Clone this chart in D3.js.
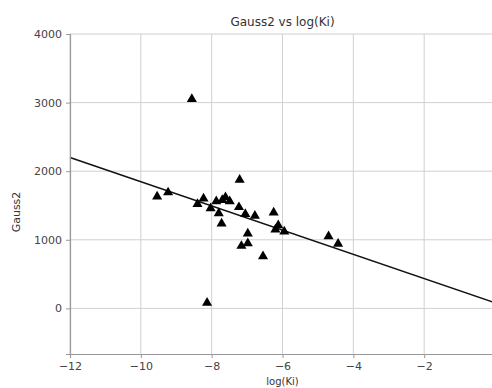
<!DOCTYPE html>
<html>
<head>
<meta charset="utf-8">
<script src="https://cdn.jsdelivr.net/npm/d3@7"></script>
<style>
  body { margin: 0; background: #fff; }
  svg { display: block; font-family: "DejaVu Sans", sans-serif; }
</style>
</head>
<body>
<svg id="chart" width="492" height="388"></svg>
<script>
const width = 492;
const height = 388;

// values
const logKi = [-9.54, -9.23, -8.56, -8.40, -8.23, -8.13, -8.03, -7.87, -7.80, -7.72,
  -7.70, -7.61, -7.49, -7.23, -7.21, -7.05, -6.98, -6.98, -7.16, -6.78,
  -6.55, -6.25, -6.12, -6.20, -5.95, -4.70, -4.43];
const gauss2 = [1630, 1690, 3050, 1520, 1600, 80, 1460, 1560, 1385, 1235,
  1580, 1620, 1560, 1475, 1875, 1375, 1090, 950, 910, 1350,
  760, 1395, 1210, 1150, 1120, 1050, 940];

// fitted line: gauss2 = slope * logKi + intercept
const fitSlope = -176.5;
const fitIntercept = 82;

const xTicks = [-12, -10, -8, -6, -4, -2];
const yTicks = [0, 1000, 2000, 3000, 4000];

const margin = { top: 34, right: -3, bottom: 34, left: 70 };

const svg = d3.select("#chart");

const x = d3.scaleLinear()
  .domain([-12, 0])
  .range([margin.left, width - margin.right]);

const y = d3.scaleLinear()
  .domain([-665, 4000])
  .range([height - margin.bottom, margin.top]);

const plot = svg.append("g");

// grid
plot.append("g")
  .selectAll("line")
  .data(xTicks)
  .join("line")
  .attr("x1", d => x(d)).attr("x2", d => x(d))
  .attr("y1", margin.top).attr("y2", height - margin.bottom)
  .attr("stroke", "#d0d0d0");

plot.append("g")
  .selectAll("line")
  .data(yTicks)
  .join("line")
  .attr("x1", margin.left).attr("x2", width)
  .attr("y1", d => y(d)).attr("y2", d => y(d))
  .attr("stroke", "#d0d0d0");

// axes
const xAxis = svg.append("g")
  .attr("transform", `translate(0,${height - margin.bottom})`)
  .call(d3.axisBottom(x).tickValues(xTicks).tickSize(4).tickPadding(4));

const yAxis = svg.append("g")
  .attr("transform", `translate(${margin.left},0)`)
  .call(d3.axisLeft(y).tickValues(yTicks).tickFormat(d3.format("d")).tickSize(4).tickPadding(4));

[xAxis, yAxis].forEach(ax => {
  ax.select(".domain").attr("stroke", "#999").attr("stroke-width", 1.2);
  ax.selectAll(".tick line").attr("stroke", "#999");
  ax.selectAll(".tick text")
    .attr("fill", "#444")
    .style("font-size", "11px")
    .style("font-family", "DejaVu Sans");
});

// regression line
const fitX = x.domain();
plot.append("line")
  .attr("x1", x(fitX[0])).attr("y1", y(fitSlope * fitX[0] + fitIntercept))
  .attr("x2", x(fitX[1])).attr("y2", y(fitSlope * fitX[1] + fitIntercept))
  .attr("stroke", "#111")
  .attr("stroke-width", 1.5);

// points
const tri = d3.symbol().type(d3.symbolTriangle).size(44);
plot.append("g")
  .selectAll("path")
  .data(d3.zip(logKi, gauss2))
  .join("path")
  .attr("d", tri)
  .attr("transform", d => `translate(${x(d[0])},${y(d[1])})`)
  .attr("fill", "#000");

// titles
svg.append("text")
  .attr("x", (margin.left + x(0)) / 2)
  .attr("y", 26)
  .attr("text-anchor", "middle")
  .attr("fill", "#333")
  .style("font-size", "12px")
  .text("Gauss2 vs log(Ki)");

svg.append("text")
  .attr("x", (margin.left + x(0)) / 2)
  .attr("y", 385)
  .attr("text-anchor", "middle")
  .attr("fill", "#333")
  .style("font-size", "10px")
  .text("log(Ki)");

svg.append("text")
  .attr("transform", `translate(20,212) rotate(-90)`)
  .attr("text-anchor", "middle")
  .attr("fill", "#333")
  .style("font-size", "11px")
  .text("Gauss2");
</script>
</body>
</html>
